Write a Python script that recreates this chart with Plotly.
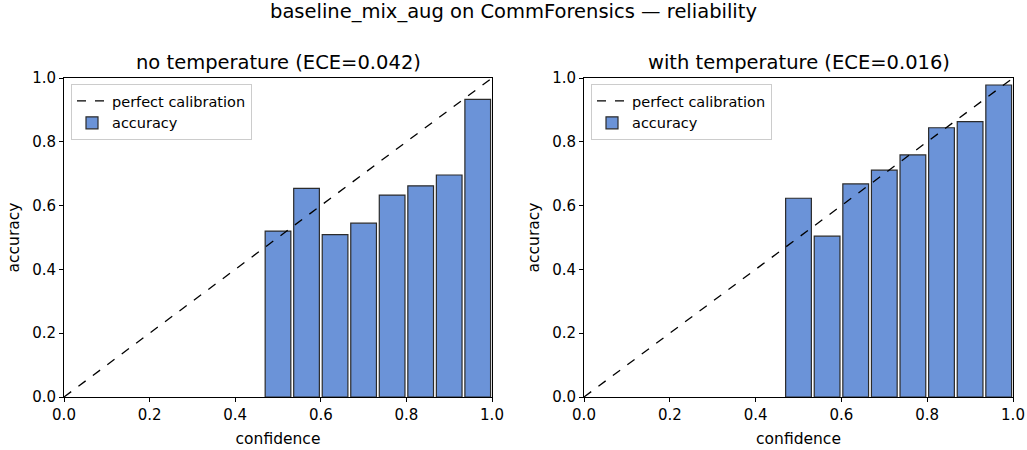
import plotly.graph_objects as go

n_bins = 15
bin_centers = [(i + 0.5) / n_bins for i in range(7, 15)]
acc_no_temp = [0.520, 0.654, 0.509, 0.545, 0.633, 0.662, 0.696, 0.933]
acc_with_temp = [0.623, 0.504, 0.668, 0.711, 0.759, 0.844, 0.863, 0.978]
diag = [0.0, 1.0]
ticks = [0.0, 0.2, 0.4, 0.6, 0.8, 1.0]
titles = ["no temperature (ECE=0.042)", "with temperature (ECE=0.016)"]
suptitle = "baseline_mix_aug on CommForensics — reliability"

W, H = 1027, 450
FONT = "DejaVu Sans, sans-serif"
BAR_COLOR = "#6b93d8"
TICK_SIZE = 15
LABEL_SIZE = 15.5
LEGEND_SIZE = 14.5
TITLE_SIZE = 19.5

fig = go.Figure()

panels = [
    (acc_no_temp, "x", "y", "legend", (64, 492)),
    (acc_with_temp, "x2", "y2", "legend2", (584, 1013)),
]
ytop, ybot = 78, 397
ydom = [1 - ybot / H, 1 - ytop / H]

for k, (acc, xa, ya, lg, (xl, xr)) in enumerate(panels):
    fig.add_trace(go.Scatter(
        x=diag, y=diag, mode="lines", name="perfect calibration",
        line=dict(color="black", width=1.3, dash="dash"),
        xaxis=xa, yaxis=ya, legend=lg, cliponaxis=True))
    fig.add_trace(go.Bar(
        x=bin_centers, y=acc, width=0.9 / n_bins, name="accuracy",
        marker=dict(color=BAR_COLOR, line=dict(color="#2b2b2b", width=1.2)),
        xaxis=xa, yaxis=ya, legend=lg))
    sfx = "" if k == 0 else str(k + 1)
    axis_common = dict(
        range=[0, 1], tickvals=ticks, tickformat=".1f", showgrid=False,
        zeroline=False, showline=True, linecolor="black", linewidth=1,
        mirror=True, ticks="outside", ticklen=4, tickcolor="black",
        automargin=False,
        tickfont=dict(size=TICK_SIZE, color="black", family=FONT))
    fig.layout["xaxis" + sfx] = dict(
        axis_common, domain=[xl / W, xr / W], anchor="y" + sfx,
        title=dict(text="confidence", font=dict(size=LABEL_SIZE, family=FONT, color="black"), standoff=10))
    fig.layout["yaxis" + sfx] = dict(
        axis_common, domain=ydom, anchor="x" + sfx,
        title=dict(text="accuracy", font=dict(size=LABEL_SIZE, family=FONT, color="black"), standoff=8))
    fig.layout[lg] = dict(
        x=(xl + 7) / W, y=1 - (ytop + 6) / H, xanchor="left", yanchor="top",
        xref="paper", yref="paper",
        bordercolor="#cccccc", borderwidth=1, bgcolor="rgba(255,255,255,0.8)",
        font=dict(size=LEGEND_SIZE, family=FONT, color="black"), tracegroupgap=0,
        itemwidth=30)
    fig.add_annotation(
        text=titles[k], x=(xl + xr) / 2 / W, y=1 - (ytop - 2) / H,
        xref="paper", yref="paper", xanchor="center", yanchor="bottom",
        showarrow=False, font=dict(size=TITLE_SIZE, family=FONT, color="black"))

fig.add_annotation(
    text=suptitle, x=0.5, y=1 - 25 / H, xref="paper", yref="paper",
    xanchor="center", yanchor="bottom", showarrow=False,
    font=dict(size=TITLE_SIZE, family=FONT, color="black"))

fig.update_layout(
    width=W, height=H, margin=dict(l=0, r=0, t=0, b=0),
    plot_bgcolor="white", paper_bgcolor="white", barmode="overlay",
    showlegend=True, font=dict(family=FONT))

fig.write_html("out.html", config={"displayModeBar": False},
               post_script="document.body.style.margin='0';document.body.style.overflow='hidden';")
